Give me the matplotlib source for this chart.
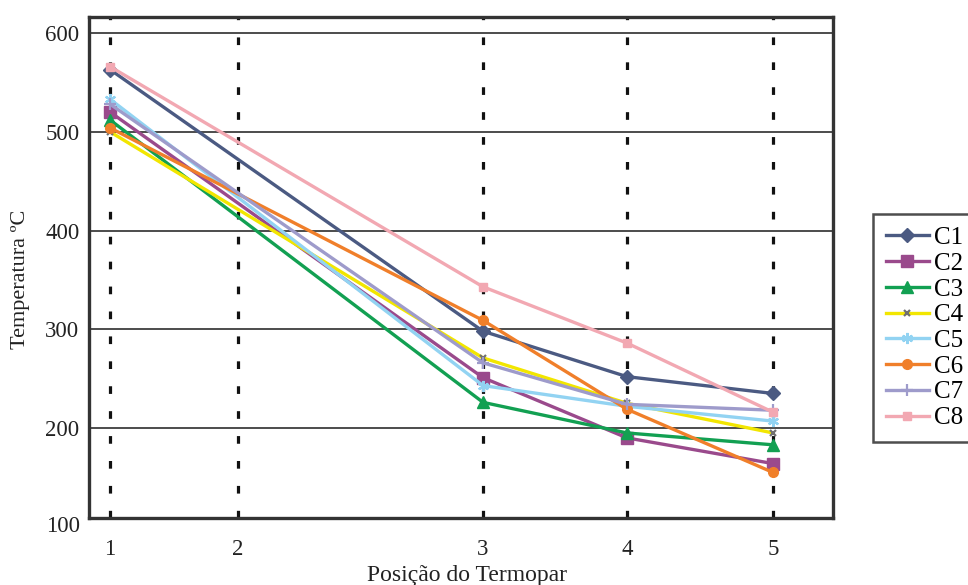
import matplotlib
matplotlib.use("Agg")
import matplotlib.pyplot as plt

# Thermocouple positions along the piece (relative spacing) and their labels
posicao = [0.0, 1.0, 2.914, 4.039, 5.18]
rotulos_posicao = ["1", "2", "3", "4", "5"]

# Readings were taken at thermocouples 1, 3, 4 and 5
pos_medidas = [posicao[0], posicao[2], posicao[3], posicao[4]]

series = ["C1", "C2", "C3", "C4", "C5", "C6", "C7", "C8"]
C1 = [563, 298, 252, 235]
C2 = [520, 251, 190, 164]
C3 = [512, 226, 195, 183]
C4 = [500, 271, 225, 195]
C5 = [533, 243, 222, 207]
C6 = [504, 309, 219, 155]
C7 = [528, 266, 224, 218]
C8 = [566, 343, 286, 216]
valores = [C1, C2, C3, C4, C5, C6, C7, C8]

yticks = [200, 300, 400, 500, 600]

cores = ["#4B5A82", "#9A4A8C", "#12A052", "#F2E600",
         "#92D3F2", "#F07F2A", "#9E9BCB", "#F2A8B2"]
marcadores = ["D", "s", "^", "x", (6, 2, 0), "o", "+", "s"]
tam_marc = [7, 8, 9, 5, 8, 7, 8, 6]

plt.rcParams["font.family"] = ["Liberation Serif", "DejaVu Serif"]

fig = plt.figure(figsize=(9.68, 5.85), dpi=100)
ax = fig.add_axes([89 / 968, 1 - 518 / 585, (833 - 89) / 968, (518 - 17) / 585])

x0, x1 = -0.164, 5.648
ax.set_xlim(x0, x1)
ax.set_ylim(108.9, 616.2)

# horizontal reference lines
for y in yticks:
    ax.axhline(y, color="#2e2e2e", lw=1.2, zorder=1)

# dotted verticals marking each thermocouple
for x in posicao:
    ax.axvline(x, color="#111111", lw=2.3, dashes=(2.4, 5.4),
               dash_capstyle="butt", zorder=1.5)

handles = []
for nome, v, c, m, ms in zip(series, valores, cores, marcadores, tam_marc):
    mec = "#707070" if nome == "C4" else c
    ln, = ax.plot(pos_medidas, v, color=c, lw=2.4, marker=m, ms=ms,
                  mfc=c, mec=mec, mew=1.6 if m in ("x", "+", (6, 2, 0)) else 1,
                  zorder=3, label=nome)
    handles.append(ln)

ax.set_xticks(posicao, rotulos_posicao)
ax.set_yticks(yticks)
ax.tick_params(axis="both", length=0, labelsize=16.5, colors="#222222")
ax.tick_params(axis="x", pad=15)
ax.tick_params(axis="y", pad=7)

# label for the lower bound, sitting just under the frame
ax.text(x0 - 9 / 128, 100, "100", ha="right", va="center",
        fontsize=16.5, color="#222222", clip_on=False)

for s in ax.spines.values():
    s.set_linewidth(2.4)
    s.set_color("#333333")

fig.text(21 / 968, 1 - 279 / 585, "Temperatura ºC", rotation=90,
         ha="center", va="center", fontsize=16, color="#222222")
fig.text(467 / 968, 1 - 575 / 585, "Posição do Termopar",
         ha="center", va="center", fontsize=17, color="#222222")

leg = fig.legend(handles=handles, loc="upper left",
                 bbox_to_anchor=(873 / 968, 1 - 214 / 585),
                 fontsize=18, frameon=True, fancybox=False, shadow=False,
                 handlelength=1.75, handletextpad=0.2, labelspacing=0.13,
                 borderpad=0.5, borderaxespad=0)
leg.get_frame().set_edgecolor("#222222")
leg.get_frame().set_linewidth(1.8)

fig.savefig("out.png", dpi=100)
